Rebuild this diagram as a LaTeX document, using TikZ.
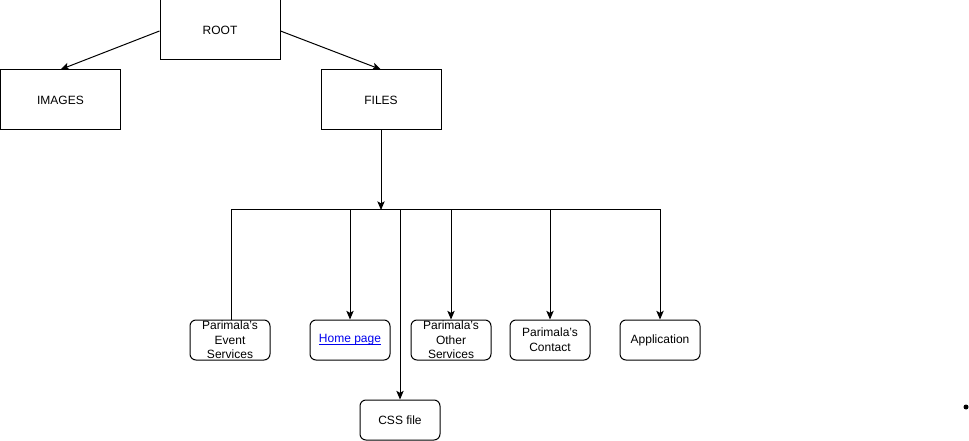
\documentclass[tikz,border=0pt]{standalone}
\usepackage{fontspec}
\setmainfont{Liberation Sans}
\usetikzlibrary{arrows.meta}
\definecolor{linkblue}{HTML}{0000EE}
% underline sitting just below the baseline, as for a hyperlink
\newcommand\linkline[1]{\setbox0\hbox{#1}\rlap{\rule[-1.3pt]{\wd0}{0.55pt}}\box0}
\tikzset{
  folder/.style={draw, line width=0.75pt, minimum width=90pt, minimum height=45pt, inner sep=0pt, font=\fontsize{9}{11}\selectfont},
  page/.style={draw, line width=0.75pt, rounded corners=4.5pt, minimum width=60pt, minimum height=30pt, inner sep=0pt, align=center, font=\fontsize{9}{11}\selectfont},
  link/.style={line width=0.75pt},
  arrowlink/.style={link, -{Stealth[length=6.5pt,width=5.5pt,inset=1.5pt]}}
}
\begin{document}
\begin{tikzpicture}[x=0.75pt,y=-0.75pt]
  \useasboundingbox (0,0) rectangle (969,441);
  % folders
  \node[folder] (root) at (220,30) {ROOT};
  \node[folder] (images) at (60.5,100) {IMAGES};
  \node[folder] (files) at (381,100) {FILES};
  % pages
  \node[page] (event) at (230,340) {Parimala's\\Event\\Services};
  \node[page] (home) at (350,340) {\color{linkblue}\linkline{Home page}};
  \node[page] (other) at (451,340) {Parimala's\\Other\\Services};
  \node[page] (contact) at (550,340) {Parimala's\\Contact};
  \node[page] (app) at (660,340) {Application};
  \node[page] (css) at (400,420) {CSS file};
  % junction below FILES
  \coordinate (hub) at (381,210);
  % connectors
  \draw[arrowlink] (root.west |- 0,31) -- (images.north);
  \draw[arrowlink] (root.east |- 0,31) -- (files.north);
  \draw[arrowlink] (files.south) -- (hub);
  \draw[link] (hub) -| ([xshift=0.75pt]event.north);
  \draw[arrowlink] (hub) -| (home.north);
  \draw[arrowlink] (hub) -| (css.north);
  \draw[arrowlink] (hub) -| (other.north);
  \draw[arrowlink] (hub) -| (contact.north);
  \draw[arrowlink] (hub) -| (app.north);
  % stray dot
  \fill (966,407) circle (2.5);
\end{tikzpicture}
\end{document}
